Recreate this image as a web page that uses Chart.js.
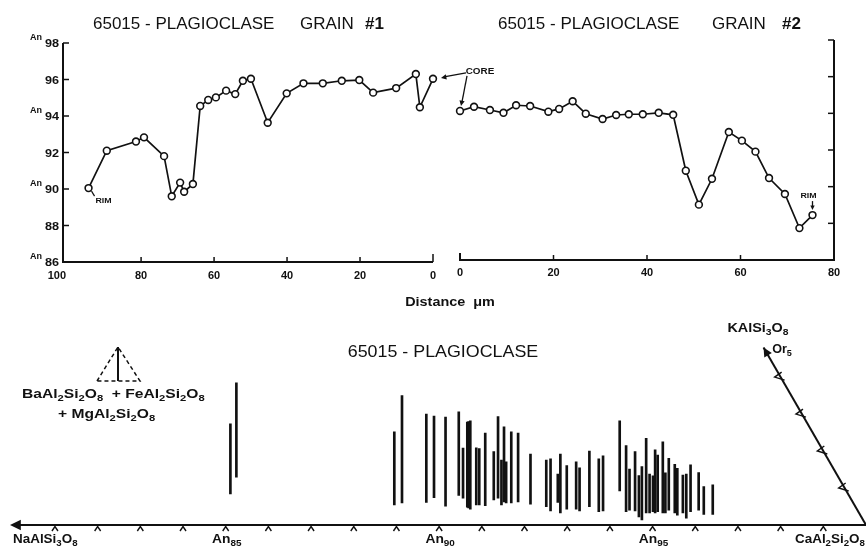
<!DOCTYPE html>
<html lang="en">
<head>
<meta charset="UTF-8">
<title>65015 - Plagioclase</title>
<script src="https://cdn.jsdelivr.net/npm/chart.js"></script>
<style>
  body { margin: 0; background: #fff; }
  #wrap { position: relative; width: 866px; height: 551px; overflow: hidden; }
  #wrap canvas { position: absolute; left: 0; top: 0; }
</style>
</head>
<body>
<div id="wrap">
  <canvas id="grain1" width="866" height="551"></canvas>
  <canvas id="grain2" width="866" height="551"></canvas>
  <canvas id="compo" width="866" height="551"></canvas>
</div>
<script>
// grain #1 traverse: distance from core (um) and An content, rim -> core
const grain1Dist = [94.4, 89.4, 81.4, 79.2, 73.7, 71.6, 69.3, 68.2, 65.8, 63.8, 61.6, 59.5, 56.7, 54.2,
                    52.1, 49.9, 45.3, 40.1, 35.5, 30.2, 25.0, 20.2, 16.4, 10.1, 4.7, 3.6, 0];
const grain1An = [90.05, 92.1, 92.6, 92.83, 91.8, 89.6, 90.35, 89.85, 90.27, 94.55, 94.88, 95.02, 95.39, 95.2,
                  95.93, 96.04, 93.63, 95.24, 95.79, 95.79, 95.93, 95.97, 95.28, 95.53, 96.3, 94.48, 96.04];

// grain #2 traverse, core -> rim
const grain2Dist = [0, 3.0, 6.4, 9.3, 12.0, 15.0, 18.9, 21.2, 24.1, 26.9, 30.5, 33.4, 36.1, 39.1, 42.5,
                    45.6, 48.3, 51.1, 53.9, 57.5, 60.3, 63.2, 66.1, 69.5, 72.6, 75.4];
const grain2An = [94.13, 94.36, 94.18, 94.03, 94.44, 94.4, 94.09, 94.24, 94.66, 93.98, 93.69, 93.91, 93.95,
                  93.95, 94.03, 93.92, 90.87, 89.02, 90.43, 92.98, 92.51, 91.91, 90.47, 89.6, 87.74, 88.45];

// individual analyses: An position and the vertical extent of each line
const barAn = [85.11, 85.25, 88.95, 89.13, 89.70, 89.88, 90.15, 90.46, 90.56, 90.66, 90.69, 90.73, 90.87, 90.94,
               91.08, 91.28, 91.38, 91.46, 91.52, 91.57, 91.69, 91.85, 92.14, 92.51, 92.61, 92.78, 92.84, 92.99,
               93.21, 93.29, 93.52, 93.74, 93.84, 94.23, 94.38, 94.46, 94.59, 94.68, 94.75, 94.85, 94.93, 95.01,
               95.06, 95.12, 95.24, 95.30, 95.38, 95.52, 95.58, 95.71, 95.79, 95.89, 96.08, 96.20, 96.41];
const barLow = [0.73, 1.12, 0.47, 0.52, 0.53, 0.64, 0.44, 0.69, 0.63, 0.42, 0.40, 0.37, 0.47, 0.47,
                0.45, 0.59, 0.63, 0.47, 0.54, 0.52, 0.52, 0.54, 0.49, 0.43, 0.33, 0.53, 0.28, 0.37,
                0.37, 0.33, 0.43, 0.31, 0.33, 0.80, 0.31, 0.35, 0.33, 0.19, 0.12, 0.28, 0.28, 0.31,
                0.28, 0.31, 0.28, 0.28, 0.35, 0.28, 0.23, 0.28, 0.16, 0.31, 0.35, 0.25, 0.25];
const barHigh = [2.37, 3.33, 2.18, 3.03, 2.60, 2.55, 2.53, 2.65, 1.80, 2.41, 2.42, 2.44, 1.81, 1.79,
                 2.15, 1.72, 2.54, 1.52, 2.30, 1.48, 2.18, 2.15, 1.66, 1.52, 1.55, 1.19, 1.66, 1.39,
                 1.48, 1.34, 1.73, 1.55, 1.62, 2.44, 1.86, 1.31, 1.72, 1.16, 1.37, 2.03, 1.19, 1.15,
                 1.76, 1.64, 1.95, 1.22, 1.56, 1.42, 1.33, 1.17, 1.19, 1.41, 1.23, 0.90, 0.94];

// axis ticks
const anTicksY = [98, 96, 94, 92, 90, 88, 86];
const anPrefixed = [98, 94, 90, 86];
const distTicks1 = [100, 80, 60, 40, 20, 0];
const distTicks2 = [0, 20, 40, 60, 80];
const anAxisTicks = [81, 82, 83, 84, 85, 86, 87, 88, 89, 90, 91, 92, 93, 94, 95, 96, 97, 98, 99];
const anAxisLabels = [85, 90, 95];
const orTicks = [1, 2, 3, 4];
const orEnd = 4.8;

const ink = '#111';
const FONT = '"Liberation Sans", Arial, sans-serif';

function seg(ctx, x1, y1, x2, y2) {
    ctx.beginPath(); ctx.moveTo(x1, y1); ctx.lineTo(x2, y2); ctx.stroke();
}

// filled arrow head at (x2,y2), pointing away from (x1,y1)
function head(ctx, x1, y1, x2, y2, size) {
    const a = Math.atan2(y2 - y1, x2 - x1);
    ctx.beginPath();
    ctx.moveTo(x2, y2);
    ctx.lineTo(x2 - size * Math.cos(a - 0.45), y2 - size * Math.sin(a - 0.45));
    ctx.lineTo(x2 - size * Math.cos(a + 0.45), y2 - size * Math.sin(a + 0.45));
    ctx.closePath();
    ctx.fill();
}

// text with "_85" style subscripts (a run of digits), vertically centred on y;
// sx widens the lettering horizontally
function label(ctx, str, x, y, size, align, weight, sx) {
    sx = sx || 1;
    const parts = [];
    for (let i = 0; i < str.length; i++) {
        if (str[i] === '_') {
            let j = i + 1, run = '';
            while (j < str.length && /[0-9]/.test(str[j])) run += str[j++];
            parts.push([run, true]);
            i = j - 1;
        } else parts.push([str[i], false]);
    }
    const w8 = weight || 'bold';
    const fontFor = sub => w8 + ' ' + (sub ? size * 0.72 : size) + 'px ' + FONT;
    let total = 0;
    parts.forEach(p => { ctx.font = fontFor(p[1]); total += ctx.measureText(p[0]).width * sx; });
    let cx = align === 'center' ? x - total / 2 : align === 'right' ? x - total : x;
    ctx.textAlign = 'left';
    ctx.textBaseline = 'middle';
    parts.forEach(p => {
        ctx.font = fontFor(p[1]);
        ctx.save();
        ctx.translate(cx, p[1] ? y + size * 0.32 : y);
        ctx.scale(sx, 1);
        ctx.fillText(p[0], 0, 0);
        ctx.restore();
        cx += ctx.measureText(p[0]).width * sx;
    });
}

function profileDataset(xs, ys) {
    return {
        data: xs.map((d, i) => ({ x: d, y: ys[i] })),
        borderColor: ink,
        borderWidth: 1.7,
        pointRadius: 3.4,
        pointBorderWidth: 1.6,
        pointBackgroundColor: '#fff',
        pointBorderColor: ink,
        tension: 0,
        clip: false
    };
}

const baseOptions = {
    responsive: false,
    animation: false,
    events: [],
    plugins: { legend: { display: false }, tooltip: { enabled: false } }
};

// ---- grain #1 ----
new Chart(document.getElementById('grain1'), {
    type: 'line',
    data: { datasets: [profileDataset(grain1Dist, grain1An)] },
    options: {
        ...baseOptions,
        layout: { padding: { left: 63, right: 433, top: 43, bottom: 289 } },
        scales: {
            x: { type: 'linear', min: 0, max: 101.4, reverse: true, display: false },
            y: { min: 86, max: 98, display: false }
        }
    },
    plugins: [{
        id: 'grain1Axes',
        beforeDatasetsDraw(chart) {
            const { ctx, chartArea: a, scales: { x, y } } = chart;
            ctx.save();
            ctx.strokeStyle = ink; ctx.fillStyle = ink; ctx.lineWidth = 2;
            ctx.beginPath();
            ctx.moveTo(a.left, a.top); ctx.lineTo(a.left, a.bottom); ctx.lineTo(a.right, a.bottom);
            ctx.stroke();
            ctx.lineWidth = 1.5;
            anTicksY.forEach(v => {
                const py = y.getPixelForValue(v);
                seg(ctx, a.left, py, a.left + 6, py);
                label(ctx, String(v), a.left - 4, py + 1, 11, 'right', 'bold', 1.15);
                if (anPrefixed.includes(v)) label(ctx, 'An', a.left - 21, py - 5, 9, 'right');
            });
            distTicks1.forEach(v => {
                const px = x.getPixelForValue(v);
                if (v !== 100) seg(ctx, px, a.bottom, px, a.bottom - (v === 0 ? 8 : 5));
                label(ctx, String(v), v === 100 ? px - 2 : px, a.bottom + 14, 10, v === 100 ? 'right' : 'center', 'bold', 1.1);
            });
            label(ctx, '65015 - PLAGIOCLASE', 93, 24, 17, 'left', 'normal');
            label(ctx, 'GRAIN', 300, 24, 17, 'left', 'normal');
            label(ctx, '#1', 365, 24, 17, 'left', 'bold');
            ctx.restore();
        },
        afterDatasetsDraw(chart) {
            const { ctx, scales: { x, y } } = chart;
            const px = x.getPixelForValue(grain1Dist[0]), py = y.getPixelForValue(grain1An[0]);
            ctx.save();
            ctx.strokeStyle = ink; ctx.fillStyle = ink; ctx.lineWidth = 1.2;
            seg(ctx, px + 3, py + 3, px + 6, py + 8);
            label(ctx, 'RIM', px + 15, py + 13, 8, 'center', 'bold', 1.1);
            ctx.restore();
        }
    }]
});

// ---- grain #2 ----
new Chart(document.getElementById('grain2'), {
    type: 'line',
    data: { datasets: [profileDataset(grain2Dist, grain2An)] },
    options: {
        ...baseOptions,
        layout: { padding: { left: 460, right: 32, top: 40, bottom: 291 } },
        scales: {
            x: { type: 'linear', min: 0, max: 80, display: false },
            y: { min: 86, max: 98, display: false }
        }
    },
    plugins: [{
        id: 'grain2Axes',
        beforeDatasetsDraw(chart) {
            const { ctx, chartArea: a, scales: { x, y } } = chart;
            ctx.save();
            ctx.strokeStyle = ink; ctx.fillStyle = ink; ctx.lineWidth = 2;
            ctx.beginPath();
            ctx.moveTo(a.left, a.bottom - 7); ctx.lineTo(a.left, a.bottom);
            ctx.lineTo(a.right, a.bottom); ctx.lineTo(a.right, a.top);
            ctx.stroke();
            ctx.lineWidth = 1.5;
            anTicksY.forEach(v => {
                const py = y.getPixelForValue(v);
                seg(ctx, a.right, py, a.right - 6, py);
            });
            distTicks2.forEach(v => {
                const px = x.getPixelForValue(v);
                if (v !== 0 && v !== 80) seg(ctx, px, a.bottom, px, a.bottom - 5);
                label(ctx, String(v), px, a.bottom + 13, 10, 'center', 'bold', 1.1);
            });
            label(ctx, '65015 - PLAGIOCLASE', 498, 24, 17, 'left', 'normal');
            label(ctx, 'GRAIN', 712, 24, 17, 'left', 'normal');
            label(ctx, '#2', 782, 24, 17, 'left', 'bold');
            ctx.restore();
        },
        afterDatasetsDraw(chart) {
            const { ctx, scales: { x, y } } = chart;
            const cx = x.getPixelForValue(grain2Dist[0]), cy = y.getPixelForValue(grain2An[0]);
            const n = grain2Dist.length - 1;
            const rx = x.getPixelForValue(grain2Dist[n]), ry = y.getPixelForValue(grain2An[n]);
            ctx.save();
            ctx.strokeStyle = ink; ctx.fillStyle = ink; ctx.lineWidth = 1.3;
            // core pointers
            label(ctx, 'CORE', cx + 20, cy - 39, 9, 'center', 'bold', 1.1);
            seg(ctx, cx + 6, cy - 38, cx - 16, cy - 34);
            head(ctx, cx + 6, cy - 38, cx - 19, cy - 33, 6);
            seg(ctx, cx + 7, cy - 35, cx + 2, cy - 9);
            head(ctx, cx + 7, cy - 35, cx + 1, cy - 5, 6);
            // rim pointer
            label(ctx, 'RIM', rx - 4, ry - 19, 8, 'center', 'bold', 1.1);
            seg(ctx, rx, ry - 14, rx, ry - 8);
            head(ctx, rx, ry - 14, rx, ry - 5, 5);
            ctx.restore();
        }
    }]
});

// ---- composition plot (An along the base, Or up the right-hand join) ----
const orLine = [
    { x: 100, y: 0 },
    { x: 100 - orEnd / 2, y: orEnd * Math.sqrt(3) / 2 }
];

new Chart(document.getElementById('compo'), {
    type: 'bar',
    data: {
        datasets: [{
            type: 'bar',
            data: barAn.map((v, i) => ({ x: v, y: [barLow[i], barHigh[i]] })),
            backgroundColor: ink,
            barThickness: 2,
            grouped: false
        }, {
            type: 'line',
            data: orLine,
            borderColor: ink,
            borderWidth: 2,
            pointRadius: 0,
            clip: false
        }]
    },
    options: {
        ...baseOptions,
        layout: { padding: { left: 8, right: 0, top: 311.5, bottom: 26 } },
        scales: {
            x: { type: 'linear', min: 79.9, max: 100, offset: false, display: false },
            y: { min: 0, max: 5, display: false }
        }
    },
    plugins: [{
        id: 'compoAxes',
        afterDatasetsDraw(chart) {
            const { ctx, chartArea: a, scales: { x, y } } = chart;
            const base = y.getPixelForValue(0);
            ctx.save();
            ctx.strokeStyle = ink; ctx.fillStyle = ink; ctx.lineWidth = 2;

            // An axis, arrow off towards albite
            seg(ctx, a.left + 6, base, a.right, base);
            head(ctx, a.left + 20, base, a.left + 2, base, 12);
            ctx.lineWidth = 1.4;
            anAxisTicks.forEach(v => {
                const px = x.getPixelForValue(v);
                ctx.beginPath();
                ctx.moveTo(px - 3, base + 6); ctx.lineTo(px, base + 1.5); ctx.lineTo(px + 3, base + 6);
                ctx.stroke();
            });
            label(ctx, 'NaAlSi_3O_8', 13, base + 15, 12, 'left', 'bold', 1.12);
            anAxisLabels.forEach(v => {
                label(ctx, 'An_' + v, x.getPixelForValue(v) + 1, base + 15, 12, 'center', 'bold', 1.15);
            });
            label(ctx, 'CaAl_2Si_2O_8', 795, base + 15, 12, 'left', 'bold', 1.12);

            // Or join with chevron ticks
            const tip = orLine[1];
            const tx = x.getPixelForValue(tip.x), ty = y.getPixelForValue(tip.y);
            head(ctx, x.getPixelForValue(100), base, tx, ty, 10);
            orTicks.forEach(o => {
                const px = x.getPixelForValue(100 - o / 2), py = y.getPixelForValue(o * Math.sqrt(3) / 2);
                ctx.beginPath();
                ctx.moveTo(px + 1, py - 5); ctx.lineTo(px - 6, py); ctx.lineTo(px + 4, py + 3);
                ctx.stroke();
            });
            label(ctx, 'KAlSi_3O_8', 758, 329, 12, 'center', 'bold', 1.2);
            label(ctx, 'Or_5', 782, 350, 12, 'center', 'bold', 1.05);

            // titles
            label(ctx, 'Distance  \u03bcm', 450, 303, 12, 'center', 'bold', 1.2);
            label(ctx, '65015 - PLAGIOCLASE', 443, 352, 17, 'center', 'normal', 1.05);

            // projection key
            ctx.lineWidth = 1.5;
            ctx.setLineDash([4, 3]);
            ctx.beginPath();
            ctx.moveTo(97, 381); ctx.lineTo(118, 347); ctx.lineTo(140, 381); ctx.closePath();
            ctx.stroke();
            ctx.setLineDash([]);
            ctx.lineWidth = 2;
            seg(ctx, 118, 347, 118, 381);
            label(ctx, 'BaAl_2Si_2O_8  + FeAl_2Si_2O_8', 22, 394, 13, 'left', 'bold', 1.2);
            label(ctx, '+ MgAl_2Si_2O_8', 58, 414, 13, 'left', 'bold', 1.2);
            ctx.restore();
        }
    }]
});
</script>
</body>
</html>
